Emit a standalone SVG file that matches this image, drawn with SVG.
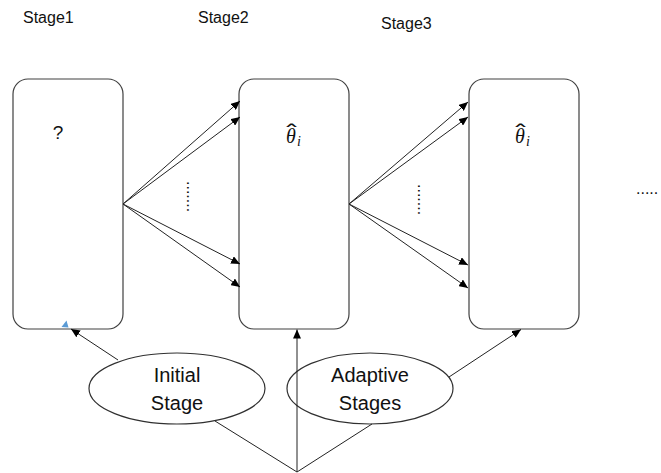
<svg xmlns="http://www.w3.org/2000/svg" width="661" height="473" viewBox="0 0 661 473">
<defs>
<marker id="ah" markerUnits="userSpaceOnUse" markerWidth="10" markerHeight="8" refX="9" refY="4" orient="auto">
<path d="M0,0 L9,4 L0,8 z" fill="#000"/>
</marker>
<style>
.box{fill:#fff;stroke:#404040;stroke-width:1.2}
.ell{fill:#fff;stroke:#303030;stroke-width:1.2}
.ln{stroke:#222;stroke-width:1;fill:none}
.arr{stroke:#222;stroke-width:1;fill:none;marker-end:url(#ah)}
.title{font-family:"Liberation Sans",Arial,sans-serif;font-size:16px;fill:#111}
.lbl{font-family:"Liberation Sans",Arial,sans-serif;font-size:20px;fill:#111;text-anchor:middle}
.math{font-family:"Liberation Serif","DejaVu Serif",serif;font-style:italic;font-size:20px;fill:#111}
.hat{font-family:"DejaVu Sans",sans-serif;font-style:normal;font-size:20px}
.sub{font-size:14px}
.dots{font-family:"Liberation Sans",Arial,sans-serif;font-size:16px;fill:#111}
</style>
</defs>
<text class="title" x="23" y="23">Stage1</text>
<text class="title" x="198" y="23">Stage2</text>
<text class="title" x="381" y="29">Stage3</text>

<g id="stage2">
<rect class="box" x="239" y="79" width="110" height="250" rx="15"/>
<text class="math" x="286" y="143">θ<tspan class="hat" x="283" y="139" textLength="17" lengthAdjust="spacingAndGlyphs">ˆ</tspan><tspan class="sub" x="297" y="146">i</tspan></text>
</g>
<g id="stage1">
<rect class="box" x="13" y="79" width="110" height="250" rx="15"/>
<text x="58" y="139" font-family="Liberation Sans,Arial,sans-serif" font-size="19" fill="#111" text-anchor="middle">?</text>
<polygon points="61.5,327 66.5,320.5 68.5,327.5" fill="#5b9bd5"/>
</g>
<g id="stage3">
<rect class="box" x="469" y="79" width="110" height="250" rx="15"/>
<text class="math" x="515" y="143">θ<tspan class="hat" x="512" y="139" textLength="17" lengthAdjust="spacingAndGlyphs">ˆ</tspan><tspan class="sub" x="526" y="146">i</tspan></text>
</g>
<g id="initial">
<ellipse class="ell" cx="177" cy="388.5" rx="88" ry="35.5"/>
<text class="lbl" x="177" y="382">Initial</text>
<text class="lbl" x="177" y="410">Stage</text>
</g>
<g id="adaptive">
<ellipse class="ell" cx="370" cy="388.5" rx="83" ry="35.5"/>
<text class="lbl" x="370" y="382">Adaptive</text>
<text class="lbl" x="370" y="410">Stages</text>
</g>
<g id="ellipsis">
<text class="dots" transform="translate(187,181) rotate(90)">.......</text>
<text class="dots" transform="translate(418,184) rotate(90)">.......</text>
<text class="dots" x="636" y="194">.....</text>
</g>
<g id="connectors">
<line class="arr" x1="123" y1="204" x2="240" y2="101"/>
<line class="arr" x1="123" y1="204" x2="240" y2="117"/>
<line class="arr" x1="123" y1="204" x2="240" y2="264"/>
<line class="arr" x1="123" y1="204" x2="240" y2="287"/>
<line class="arr" x1="349" y1="204" x2="468" y2="102"/>
<line class="arr" x1="349" y1="204" x2="468" y2="117"/>
<line class="arr" x1="349" y1="204" x2="468" y2="265"/>
<line class="arr" x1="349" y1="204" x2="468" y2="288"/>
<line class="arr" x1="118" y1="360" x2="71" y2="329"/>
<line class="ln" x1="215" y1="421" x2="297" y2="472"/>
<line class="ln" x1="372" y1="424" x2="297" y2="472"/>
<line class="arr" x1="297" y1="472" x2="297" y2="329.5"/>
<line class="arr" x1="449" y1="377" x2="521" y2="329.5"/>
</g>
</svg>
